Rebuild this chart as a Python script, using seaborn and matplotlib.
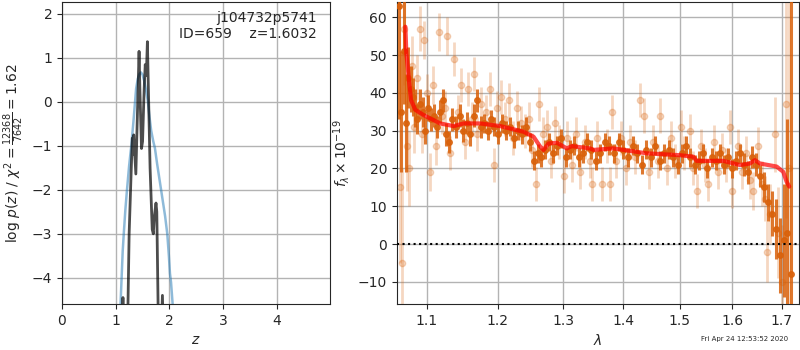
import numpy as np
import matplotlib
matplotlib.use("Agg")
import matplotlib.pyplot as plt
from matplotlib.ticker import NullLocator, FixedLocator, FixedFormatter
import seaborn as sns

# ==========================
# 1. Données p(z)
# ==========================
chi2_z = [1.09, 1.11, 1.13, 1.15, 1.18, 1.21, 1.25, 1.29, 1.33, 1.36, 1.38, 1.41,
          1.44, 1.47, 1.50, 1.53, 1.56, 1.60, 1.63, 1.66, 1.70, 1.73, 1.77, 1.82,
          1.87, 1.92, 1.96, 1.99, 2.01, 2.03, 2.06]
chi2_lp = [-4.6, -4.0, -3.4, -3.0, -2.45, -2.0, -1.45, -1.0, -0.45, 0.0, 0.3, 0.52,
           0.63, 0.67, 0.62, 0.48, 0.3, 0.0, -0.35, -0.65, -0.9, -1.05, -1.4, -1.8,
           -2.2, -2.6, -3.0, -3.5, -3.9, -4.1, -4.6]

pz_z = [1.10, 1.135, 1.16, 1.21, 1.25, 1.29, 1.31, 1.325, 1.335, 1.375, 1.41, 1.435,
        1.45, 1.48, 1.50, 1.53, 1.55, 1.57, 1.59, 1.61, 1.64, 1.68, 1.70, 1.72,
        1.75, 1.765, 1.79, 1.83, 1.87, 1.90]
pz_lp = [-6.0, -4.45, -6.0, -6.0, -3.0, -1.5, -0.82, -1.2, -0.75, -1.64, 0.0, 1.15,
         0.3, -1.06, -0.9, 0.3, 0.85, 0.6, 1.37, 0.2, -1.5, -2.9, -3.0, -2.6,
         -2.3, -2.5, -4.7, -6.0, -4.4, -6.0]

# ==========================
# 2. Spectre (points foncés)
# ==========================
wave_a = [1.063, 1.066, 1.069, 1.072, 1.075, 1.078, 1.081, 1.084, 1.087, 1.090,
          1.094, 1.098, 1.102, 1.106, 1.110, 1.114, 1.118, 1.122, 1.126, 1.130,
          1.135, 1.140, 1.145, 1.150, 1.155, 1.160, 1.165, 1.170, 1.175, 1.180,
          1.185, 1.190, 1.195, 1.200, 1.206, 1.212, 1.218, 1.224, 1.230, 1.236,
          1.242, 1.248, 1.254, 1.260, 1.266, 1.272, 1.278, 1.284, 1.290, 1.297,
          1.304, 1.311, 1.318, 1.325, 1.332, 1.339, 1.346, 1.353, 1.360, 1.368,
          1.376, 1.384, 1.392, 1.400, 1.408, 1.416, 1.424, 1.432, 1.440, 1.448,
          1.456, 1.464, 1.472, 1.480, 1.488, 1.496, 1.504, 1.512, 1.520, 1.528,
          1.536, 1.544, 1.552, 1.560, 1.568, 1.576, 1.584, 1.592, 1.600, 1.608,
          1.616, 1.624, 1.632, 1.640, 1.648, 1.656, 1.664, 1.672, 1.680, 1.688,
          1.696, 1.704, 1.712, 1.719]
flux_a = [63, 35, 51, 32, 44, 41, 39, 36, 33, 37,
          35, 30, 36, 33, 34, 31, 35, 38, 29, 27,
          33, 31, 34, 30, 32, 29, 34, 38, 31, 32,
          30, 33, 31, 29, 32, 30, 31, 28, 30, 29,
          31, 27, 22, 24, 23, 25, 27, 24, 26, 28,
          23, 25, 26, 23, 24, 27, 25, 22, 24, 27,
          26, 24, 27, 25, 23, 26, 24, 21, 25, 23,
          26, 22, 24, 25, 23, 21, 24, 26, 23, 21,
          22, 24, 20, 23, 22, 24, 21, 23, 20, 22,
          24, 21, 19, 23, 21, 18, 15, 11, 8, 4,
          -3, 1, 3, -8]
err_a = [30, 16, 14, 13, 8, 6, 5, 5, 4, 4,
         4, 3.5, 3.5, 3, 3, 3, 3, 3, 3, 3,
         3, 3, 3, 3, 3, 3, 3, 3, 3, 2.5,
         2.5, 2.5, 2.5, 2.5, 2.5, 2.5, 2.5, 2.5, 2.5, 2.5,
         2.5, 2.5, 2.5, 2.5, 2.5, 2.5, 2.5, 2.5, 2.5, 2.5,
         2.5, 2.5, 2.5, 2.5, 2.5, 2.5, 2.5, 2.5, 2.5, 2.5,
         2.5, 2.5, 2.5, 2.5, 2.5, 2.5, 2.5, 2.5, 2.5, 2.5,
         2.5, 2.5, 2.5, 2.5, 2.5, 2.5, 2.5, 2.5, 2.5, 2.5,
         2.5, 2.5, 2.5, 2.5, 2.5, 2.5, 2.5, 2.5, 2.5, 2.5,
         2.5, 3, 3, 3, 3, 3, 4, 5, 6, 8,
         10, 15, 30, 80]

# ==========================
# 3. Spectre (points clairs)
# ==========================
wave_b = [1.064, 1.067, 1.070, 1.073, 1.076, 1.080, 1.083, 1.086, 1.090, 1.093,
          1.096, 1.100, 1.104, 1.108, 1.112, 1.116, 1.120, 1.124, 1.128, 1.132,
          1.137, 1.142, 1.147, 1.152, 1.157, 1.162, 1.166, 1.170, 1.176, 1.182,
          1.188, 1.194, 1.199, 1.204, 1.210, 1.216, 1.222, 1.228, 1.234, 1.240,
          1.246, 1.252, 1.258, 1.262, 1.268, 1.275, 1.281, 1.287, 1.294, 1.301,
          1.306, 1.314, 1.321, 1.328, 1.336, 1.343, 1.347, 1.356, 1.364, 1.372,
          1.377, 1.381, 1.388, 1.396, 1.404, 1.412, 1.420, 1.429, 1.435, 1.444,
          1.452, 1.460, 1.465, 1.476, 1.484, 1.492, 1.502, 1.508, 1.519, 1.524,
          1.532, 1.540, 1.548, 1.554, 1.564, 1.572, 1.580, 1.588, 1.596, 1.599,
          1.612, 1.620, 1.628, 1.636, 1.641, 1.652, 1.660, 1.665, 1.670, 1.676,
          1.686, 1.692, 1.700, 1.710, 1.716]
flux_b = [15, -5, 57, 26, 20, 47, 31, 44, 57, 29,
          54, 40, 19, 42, 26, 56, 34, 36, 55, 24,
          49, 35, 42, 27, 41, 33, 45, 29, 37, 35,
          41, 21, 36, 39, 33, 38, 28, 36, 32, 30,
          33, 25, 16, 37, 29, 31, 22, 32, 27, 18,
          28, 21, 29, 19, 27, 22, 16, 28, 16, 26,
          16, 35, 22, 28, 20, 27, 23, 38, 34, 19,
          27, 22, 34, 20, 28, 22, 31, 24, 30, 20,
          14, 26, 21, 16, 27, 19, 25, 21, 31, 14,
          26, 19, 24, 17, 14, 26, 16, 12, -2, 8,
          29, 3, -10, 37, 20]
err_b = [20, 25, 15, 12, 10, 8, 7, 6, 6, 5,
         5, 5, 5, 5, 5, 5, 5, 4.5, 5, 4.5,
         4.5, 4.5, 4.5, 4.5, 4.5, 4.5, 4.5, 4.5, 4.5, 4.5,
         4.5, 4.5, 4.5, 4.5, 4.5, 4.5, 4.5, 4.5, 4.5, 4.5,
         4.5, 4.5, 4.5, 4.5, 4.5, 4.5, 4.5, 4.5, 4.5, 4.5,
         4.5, 4.5, 4.5, 4.5, 4.5, 4.5, 4.5, 4.5, 4.5, 4.5,
         4.5, 4.5, 4.5, 4.5, 4.5, 4.5, 4.5, 4.5, 4.5, 4.5,
         4.5, 4.5, 4.5, 4.5, 4.5, 4.5, 4.5, 4.5, 4.5, 4.5,
         4.5, 4.5, 4.5, 4.5, 4.5, 4.5, 4.5, 4.5, 4.5, 4.5,
         4.5, 4.5, 4.5, 5, 5, 5, 6, 6, 8, 8,
         10, 12, 15, 30, 45]

# ==========================
# 4. Modèle
# ==========================
model_wave = [1.0712, 1.0725, 1.0755, 1.0786, 1.0844, 1.0955, 1.1181, 1.1366, 1.1506,
              1.1743, 1.2035, 1.2384, 1.2537, 1.2639, 1.2691, 1.2770, 1.2901, 1.3059,
              1.3141, 1.3438, 1.3493, 1.3829, 1.4405, 1.5006, 1.5253, 1.5316, 1.5825,
              1.6151, 1.6350, 1.6451, 1.6553, 1.6895, 1.7033, 1.7103, 1.7159]
model_flux = [57.5, 50.5, 44.3, 38.1, 35.5, 34.1, 31.9, 31.2, 31.9,
              31.9, 31.2, 29.7, 28.4, 25.8, 24.9, 26.6, 26.8, 25.3,
              25.9, 25.3, 24.9, 25.3, 24.0, 23.5, 23.1, 22.0, 22.0,
              20.9, 21.3, 22.2, 21.3, 20.5, 19.1, 16.5, 15.2]

wave_ticks = [1.1, 1.2, 1.3, 1.4, 1.5, 1.6, 1.7]
z_ticks = [0, 1, 2, 3, 4]

# ==========================
# 5. Figure
# ==========================
sns.set_style("ticks")
plt.rcParams["font.family"] = ["DejaVu Sans"]
plt.rcParams["font.size"] = 10

fig = plt.figure(figsize=(8, 3.5), dpi=100)
ax1 = fig.add_axes([0.0775, 0.131, 0.335, 0.863])
ax2 = fig.add_axes([0.496, 0.131, 0.503, 0.863])

# --- p(z)
sns.lineplot(x=chi2_z, y=chi2_lp, ax=ax1, color="#1f77b4", alpha=0.5, lw=1.8,
             sort=False, estimator=None)
sns.lineplot(x=pz_z, y=pz_lp, ax=ax1, color="k", alpha=0.7, lw=2,
             sort=False, estimator=None)
ax1.set_xlim(0, 4.99)
ax1.set_ylim(-4.6, 2.27)
ax1.set_xticks(z_ticks)
ax1.set_xlabel("$z$")
ax1.set_ylabel(r"log $p(z)$ / $\chi^2=\frac{12368}{7642}=1.62$")
ax1.grid(color="0.7", lw=1)
ax1.text(0.95, 0.97, "j104732p5741\nID=659    z=1.6032", transform=ax1.transAxes,
         ha="right", va="top", fontsize=10)

# --- spectre
orange = (0.85, 0.38, 0.04)
ax2.errorbar(wave_b, flux_b, yerr=err_b, color=orange, alpha=0.25, marker="o",
             ms=4.5, linestyle="none", elinewidth=2, zorder=2)
ax2.errorbar(wave_a, flux_a, yerr=err_a, color=orange, alpha=0.85, marker="o",
             ms=4, linestyle="none", elinewidth=2.2, zorder=3)
sns.lineplot(x=model_wave, y=model_flux, ax=ax2, color="red", alpha=0.7, lw=3,
             sort=False, estimator=None, zorder=4)
ax2.axhline(0, color="k", linestyle=":", lw=1.5, zorder=5)

ax2.set_xscale("log")
ax2.set_xlim(1.060, 1.737)
ax2.set_ylim(-15.9, 64)
ax2.xaxis.set_major_locator(FixedLocator(wave_ticks))
ax2.xaxis.set_major_formatter(FixedFormatter([f"{w:.1f}" for w in wave_ticks]))
ax2.xaxis.set_minor_locator(NullLocator())
ax2.set_xlabel(r"$\lambda$")
ax2.set_ylabel(r"$f_\lambda\times10^{-19}$")
ax2.grid(color="0.7", lw=1)

fig.text(0.985, 0.022, "Fri Apr 24 12:53:52 2020", ha="right", va="bottom", fontsize=5)

fig.savefig("out.png", dpi=100)
